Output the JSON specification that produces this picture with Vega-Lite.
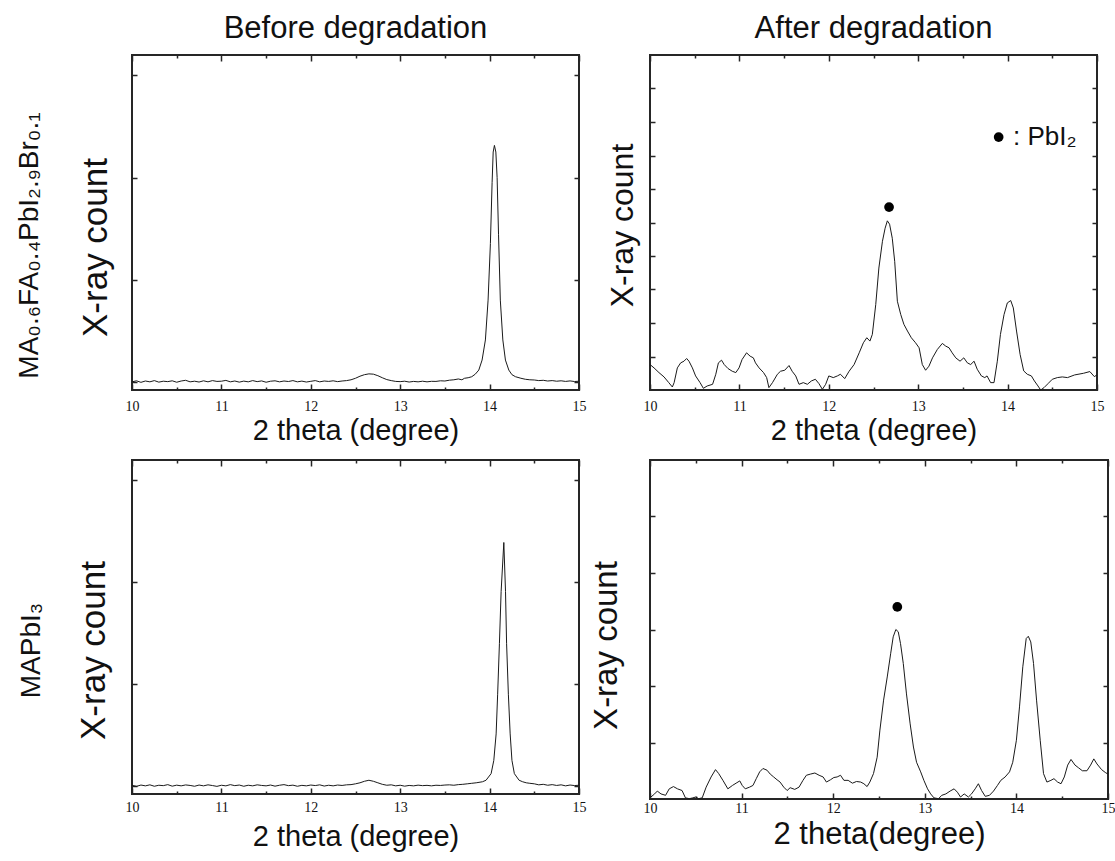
{
"$schema": "https://vega.github.io/schema/vega-lite/v6.json",
"background": "white",
"padding": {"left": 14, "top": 12, "right": 8, "bottom": 8},
"config": {
  "view": {"stroke": "#262626", "strokeWidth": 2},
  "axis": {"grid": false, "domain": false, "tickColor": "#262626", "tickWidth": 1.5, "tickSize": -6,
           "labelFont": "Liberation Serif", "labelFontSize": 14, "labelColor": "#111", "labelPadding": 15, "labelFlush": false,
           "titleFont": "Liberation Sans", "titleFontWeight": "normal", "titleColor": "#111"},
  "axisX": {"titleBaseline": "alphabetic", "titleFontSize": 29},
  "axisY": {"tickSize": -5},
  "title": {"font": "Liberation Sans", "fontSize": 31, "fontWeight": "normal", "color": "#111", "offset": 9, "anchor": "middle"}
},
"datasets": {
  "p1": [
{"x":10.00,"y":0.0},{"x":10.05,"y":0.01},{"x":10.10,"y":-0.005},{"x":10.15,"y":0.008},{"x":10.20,"y":0.0},{"x":10.25,"y":0.012},{"x":10.30,"y":-0.003},{"x":10.35,"y":0.006},{"x":10.40,"y":0.002},{"x":10.45,"y":0.01},{"x":10.50,"y":-0.004},{"x":10.55,"y":0.008},{"x":10.60,"y":0.015},{"x":10.65,"y":0.0},{"x":10.70,"y":0.006},{"x":10.75,"y":-0.002},{"x":10.80,"y":0.01},{"x":10.85,"y":0.0},{"x":10.90,"y":0.012},{"x":10.95,"y":0.004},{"x":11.00,"y":0.006},{"x":11.05,"y":0.014},{"x":11.10,"y":0.0},{"x":11.15,"y":0.008},{"x":11.20,"y":-0.003},{"x":11.25,"y":0.007},{"x":11.30,"y":0.0},{"x":11.35,"y":0.012},{"x":11.40,"y":0.002},{"x":11.45,"y":0.009},{"x":11.50,"y":-0.004},{"x":11.55,"y":0.006},{"x":11.60,"y":0.01},{"x":11.65,"y":0.0},{"x":11.70,"y":0.008},{"x":11.75,"y":0.003},{"x":11.80,"y":0.012},{"x":11.85,"y":0.0},{"x":11.90,"y":0.007},{"x":11.95,"y":-0.002},{"x":12.00,"y":0.005},{"x":12.05,"y":0.012},{"x":12.10,"y":0.0},{"x":12.15,"y":0.008},{"x":12.20,"y":0.004},{"x":12.25,"y":0.01},{"x":12.30,"y":0.002},{"x":12.35,"y":0.008},{"x":12.40,"y":0.012},{"x":12.45,"y":0.02},{"x":12.50,"y":0.035},{"x":12.55,"y":0.055},{"x":12.60,"y":0.07},{"x":12.65,"y":0.078},{"x":12.70,"y":0.075},{"x":12.75,"y":0.06},{"x":12.80,"y":0.04},{"x":12.85,"y":0.022},{"x":12.90,"y":0.012},{"x":12.95,"y":0.004},{"x":13.00,"y":0.002},{"x":13.05,"y":0.006},{"x":13.10,"y":-0.002},{"x":13.15,"y":0.004},{"x":13.20,"y":0.0},{"x":13.25,"y":0.006},{"x":13.30,"y":0.0},{"x":13.35,"y":0.005},{"x":13.40,"y":0.004},{"x":13.45,"y":0.01},{"x":13.50,"y":0.008},{"x":13.55,"y":0.016},{"x":13.60,"y":0.02},{"x":13.65,"y":0.028},{"x":13.69,"y":0.02},{"x":13.72,"y":0.035},{"x":13.76,"y":0.04},{"x":13.80,"y":0.05},{"x":13.84,"y":0.075},{"x":13.879,"y":0.115},{"x":13.916,"y":0.213},{"x":13.953,"y":0.41},{"x":13.983,"y":0.80},{"x":14.009,"y":1.355},{"x":14.028,"y":1.95},{"x":14.04,"y":2.25},{"x":14.054,"y":2.315},{"x":14.07,"y":2.25},{"x":14.084,"y":2.0},{"x":14.10,"y":1.44},{"x":14.12,"y":0.80},{"x":14.148,"y":0.41},{"x":14.177,"y":0.213},{"x":14.215,"y":0.115},{"x":14.25,"y":0.07},{"x":14.29,"y":0.05},{"x":14.35,"y":0.035},{"x":14.40,"y":0.025},{"x":14.45,"y":0.02},{"x":14.50,"y":0.018},{"x":14.55,"y":0.012},{"x":14.60,"y":0.015},{"x":14.65,"y":0.008},{"x":14.70,"y":0.012},{"x":14.75,"y":0.006},{"x":14.80,"y":0.01},{"x":14.85,"y":0.004},{"x":14.90,"y":0.009},{"x":14.95,"y":0.003},{"x":15.00,"y":0.006}
  ],
  "p2": [
{"x":10.0,"y":0.76},{"x":10.045,"y":0.66},{"x":10.10,"y":0.52},{"x":10.157,"y":0.39},{"x":10.21,"y":0.22},{"x":10.25,"y":0.09},{"x":10.27,"y":0.22},{"x":10.306,"y":0.66},{"x":10.343,"y":0.81},{"x":10.38,"y":0.86},{"x":10.41,"y":0.94},{"x":10.436,"y":0.86},{"x":10.474,"y":0.66},{"x":10.51,"y":0.42},{"x":10.56,"y":0.22},{"x":10.597,"y":0.05},{"x":10.64,"y":0.12},{"x":10.70,"y":0.17},{"x":10.736,"y":0.47},{"x":10.765,"y":0.81},{"x":10.80,"y":0.89},{"x":10.83,"y":0.76},{"x":10.873,"y":0.64},{"x":10.92,"y":0.56},{"x":10.96,"y":0.52},{"x":10.996,"y":0.66},{"x":11.03,"y":0.91},{"x":11.08,"y":1.11},{"x":11.12,"y":1.01},{"x":11.156,"y":0.96},{"x":11.18,"y":0.81},{"x":11.22,"y":0.66},{"x":11.27,"y":0.52},{"x":11.305,"y":0.37},{"x":11.33,"y":0.07},{"x":11.37,"y":0.22},{"x":11.425,"y":0.47},{"x":11.46,"y":0.56},{"x":11.507,"y":0.59},{"x":11.555,"y":0.73},{"x":11.59,"y":0.56},{"x":11.63,"y":0.42},{"x":11.667,"y":0.17},{"x":11.715,"y":0.22},{"x":11.76,"y":0.17},{"x":11.805,"y":0.27},{"x":11.85,"y":0.32},{"x":11.89,"y":0.19},{"x":11.928,"y":0.02},{"x":11.965,"y":0.17},{"x":12.0,"y":0.42},{"x":12.05,"y":0.37},{"x":12.096,"y":0.42},{"x":12.13,"y":0.47},{"x":12.178,"y":0.34},{"x":12.227,"y":0.56},{"x":12.283,"y":0.76},{"x":12.34,"y":1.11},{"x":12.387,"y":1.41},{"x":12.425,"y":1.56},{"x":12.46,"y":1.46},{"x":12.487,"y":1.66},{"x":12.525,"y":2.55},{"x":12.56,"y":3.64},{"x":12.6,"y":4.44},{"x":12.63,"y":4.83},{"x":12.655,"y":5.05},{"x":12.68,"y":4.95},{"x":12.71,"y":4.53},{"x":12.737,"y":3.84},{"x":12.767,"y":2.65},{"x":12.805,"y":2.25},{"x":12.84,"y":1.96},{"x":12.88,"y":1.76},{"x":12.923,"y":1.56},{"x":12.97,"y":1.41},{"x":13.01,"y":1.26},{"x":13.046,"y":0.76},{"x":13.083,"y":0.59},{"x":13.12,"y":0.71},{"x":13.16,"y":0.96},{"x":13.214,"y":1.21},{"x":13.27,"y":1.39},{"x":13.308,"y":1.31},{"x":13.345,"y":1.26},{"x":13.38,"y":1.11},{"x":13.42,"y":0.96},{"x":13.468,"y":0.86},{"x":13.51,"y":0.96},{"x":13.55,"y":0.81},{"x":13.587,"y":0.76},{"x":13.625,"y":0.86},{"x":13.66,"y":0.62},{"x":13.707,"y":0.42},{"x":13.745,"y":0.37},{"x":13.77,"y":0.42},{"x":13.81,"y":0.22},{"x":13.848,"y":0.22},{"x":13.885,"y":0.86},{"x":13.92,"y":1.66},{"x":13.96,"y":2.25},{"x":13.997,"y":2.60},{"x":14.035,"y":2.67},{"x":14.064,"y":2.45},{"x":14.10,"y":1.76},{"x":14.14,"y":1.06},{"x":14.18,"y":0.57},{"x":14.22,"y":0.47},{"x":14.266,"y":0.42},{"x":14.30,"y":0.27},{"x":14.34,"y":0.12},{"x":14.37,"y":0.0},{"x":14.407,"y":0.07},{"x":14.452,"y":0.19},{"x":14.50,"y":0.32},{"x":14.556,"y":0.37},{"x":14.612,"y":0.39},{"x":14.67,"y":0.37},{"x":14.75,"y":0.45},{"x":14.85,"y":0.5},{"x":14.92,"y":0.55},{"x":14.97,"y":0.4},{"x":15.0,"y":0.45}
  ],
  "p3": [
{"x":10.00,"y":0.005},{"x":10.05,"y":-0.005},{"x":10.10,"y":0.008},{"x":10.15,"y":0.0},{"x":10.20,"y":0.01},{"x":10.25,"y":-0.004},{"x":10.30,"y":0.006},{"x":10.35,"y":0.002},{"x":10.40,"y":0.012},{"x":10.45,"y":-0.003},{"x":10.50,"y":0.007},{"x":10.55,"y":0.0},{"x":10.60,"y":0.009},{"x":10.65,"y":0.004},{"x":10.70,"y":-0.004},{"x":10.75,"y":0.008},{"x":10.80,"y":0.0},{"x":10.85,"y":0.01},{"x":10.90,"y":0.003},{"x":10.95,"y":-0.005},{"x":11.00,"y":0.006},{"x":11.05,"y":0.0},{"x":11.10,"y":0.012},{"x":11.15,"y":0.002},{"x":11.20,"y":0.008},{"x":11.25,"y":-0.004},{"x":11.30,"y":0.006},{"x":11.35,"y":0.0},{"x":11.40,"y":0.01},{"x":11.45,"y":0.004},{"x":11.50,"y":0.0},{"x":11.55,"y":0.008},{"x":11.60,"y":-0.003},{"x":11.65,"y":0.006},{"x":11.70,"y":0.012},{"x":11.75,"y":0.002},{"x":11.80,"y":0.007},{"x":11.85,"y":-0.004},{"x":11.90,"y":0.005},{"x":11.95,"y":0.0},{"x":12.00,"y":0.008},{"x":12.05,"y":0.003},{"x":12.10,"y":0.01},{"x":12.15,"y":-0.002},{"x":12.20,"y":0.006},{"x":12.25,"y":0.0},{"x":12.30,"y":0.008},{"x":12.35,"y":0.004},{"x":12.40,"y":0.01},{"x":12.45,"y":0.012},{"x":12.50,"y":0.02},{"x":12.55,"y":0.03},{"x":12.60,"y":0.045},{"x":12.65,"y":0.055},{"x":12.70,"y":0.045},{"x":12.75,"y":0.03},{"x":12.80,"y":0.015},{"x":12.85,"y":0.006},{"x":12.90,"y":0.01},{"x":12.95,"y":0.0},{"x":13.00,"y":0.006},{"x":13.05,"y":-0.003},{"x":13.10,"y":0.004},{"x":13.15,"y":0.0},{"x":13.20,"y":0.007},{"x":13.25,"y":0.002},{"x":13.30,"y":0.005},{"x":13.35,"y":0.0},{"x":13.40,"y":0.006},{"x":13.45,"y":0.004},{"x":13.50,"y":0.008},{"x":13.55,"y":0.01},{"x":13.60,"y":0.006},{"x":13.65,"y":0.012},{"x":13.70,"y":0.015},{"x":13.75,"y":0.02},{"x":13.80,"y":0.025},{"x":13.85,"y":0.03},{"x":13.92,"y":0.04},{"x":13.96,"y":0.055},{"x":14.017,"y":0.12},{"x":14.047,"y":0.25},{"x":14.073,"y":0.51},{"x":14.09,"y":0.90},{"x":14.11,"y":1.40},{"x":14.129,"y":1.91},{"x":14.159,"y":2.39},{"x":14.178,"y":1.91},{"x":14.19,"y":1.40},{"x":14.21,"y":0.90},{"x":14.23,"y":0.51},{"x":14.25,"y":0.25},{"x":14.277,"y":0.12},{"x":14.33,"y":0.055},{"x":14.37,"y":0.04},{"x":14.41,"y":0.03},{"x":14.45,"y":0.025},{"x":14.50,"y":0.02},{"x":14.55,"y":0.01},{"x":14.60,"y":0.015},{"x":14.65,"y":0.006},{"x":14.70,"y":0.012},{"x":14.75,"y":0.004},{"x":14.80,"y":0.01},{"x":14.85,"y":0.0},{"x":14.90,"y":0.008},{"x":14.95,"y":0.003},{"x":15.00,"y":0.006}
  ],
  "p4": [
{"x":10.01,"y":0.035},{"x":10.05,"y":0.09},{"x":10.08,"y":0.14},{"x":10.12,"y":0.09},{"x":10.17,"y":0.065},{"x":10.21,"y":0.18},{"x":10.256,"y":0.22},{"x":10.30,"y":0.18},{"x":10.35,"y":0.15},{"x":10.387,"y":0.02},{"x":10.43,"y":0.006},{"x":10.467,"y":0.02},{"x":10.50,"y":0.035},{"x":10.53,"y":0.006},{"x":10.57,"y":0.02},{"x":10.613,"y":0.21},{"x":10.667,"y":0.39},{"x":10.715,"y":0.52},{"x":10.75,"y":0.45},{"x":10.796,"y":0.33},{"x":10.85,"y":0.18},{"x":10.90,"y":0.24},{"x":10.94,"y":0.28},{"x":10.98,"y":0.32},{"x":11.007,"y":0.24},{"x":11.04,"y":0.18},{"x":11.087,"y":0.21},{"x":11.124,"y":0.24},{"x":11.16,"y":0.36},{"x":11.197,"y":0.48},{"x":11.233,"y":0.54},{"x":11.277,"y":0.51},{"x":11.313,"y":0.44},{"x":11.35,"y":0.39},{"x":11.387,"y":0.34},{"x":11.42,"y":0.30},{"x":11.46,"y":0.21},{"x":11.497,"y":0.15},{"x":11.53,"y":0.20},{"x":11.58,"y":0.17},{"x":11.627,"y":0.21},{"x":11.67,"y":0.33},{"x":11.707,"y":0.42},{"x":11.75,"y":0.44},{"x":11.80,"y":0.46},{"x":11.846,"y":0.42},{"x":11.89,"y":0.39},{"x":11.926,"y":0.30},{"x":11.97,"y":0.34},{"x":12.007,"y":0.38},{"x":12.043,"y":0.39},{"x":12.08,"y":0.42},{"x":12.117,"y":0.33},{"x":12.163,"y":0.33},{"x":12.21,"y":0.28},{"x":12.254,"y":0.31},{"x":12.30,"y":0.30},{"x":12.335,"y":0.27},{"x":12.37,"y":0.22},{"x":12.40,"y":0.30},{"x":12.44,"y":0.45},{"x":12.48,"y":0.74},{"x":12.51,"y":1.22},{"x":12.55,"y":1.75},{"x":12.59,"y":2.16},{"x":12.627,"y":2.57},{"x":12.655,"y":2.87},{"x":12.684,"y":3.00},{"x":12.71,"y":2.96},{"x":12.735,"y":2.75},{"x":12.765,"y":2.40},{"x":12.80,"y":1.86},{"x":12.84,"y":1.33},{"x":12.876,"y":0.92},{"x":12.91,"y":0.65},{"x":12.955,"y":0.48},{"x":12.99,"y":0.33},{"x":13.03,"y":0.18},{"x":13.064,"y":0.09},{"x":13.10,"y":0.02},{"x":13.15,"y":0.006},{"x":13.185,"y":0.065},{"x":13.23,"y":0.09},{"x":13.276,"y":0.14},{"x":13.32,"y":0.18},{"x":13.356,"y":0.12},{"x":13.39,"y":0.035},{"x":13.43,"y":0.09},{"x":13.476,"y":0.035},{"x":13.51,"y":0.09},{"x":13.55,"y":0.18},{"x":13.585,"y":0.27},{"x":13.62,"y":0.15},{"x":13.66,"y":0.047},{"x":13.706,"y":0.065},{"x":13.75,"y":0.14},{"x":13.793,"y":0.24},{"x":13.83,"y":0.33},{"x":13.877,"y":0.39},{"x":13.925,"y":0.48},{"x":13.96,"y":0.65},{"x":14.0,"y":1.04},{"x":14.034,"y":1.63},{"x":14.07,"y":2.34},{"x":14.107,"y":2.84},{"x":14.13,"y":2.88},{"x":14.157,"y":2.78},{"x":14.187,"y":2.40},{"x":14.22,"y":1.75},{"x":14.26,"y":1.04},{"x":14.296,"y":0.45},{"x":14.333,"y":0.30},{"x":14.377,"y":0.33},{"x":14.41,"y":0.36},{"x":14.45,"y":0.30},{"x":14.487,"y":0.27},{"x":14.523,"y":0.39},{"x":14.56,"y":0.60},{"x":14.596,"y":0.70},{"x":14.64,"y":0.6},{"x":14.68,"y":0.55},{"x":14.72,"y":0.5},{"x":14.77,"y":0.5},{"x":14.81,"y":0.6},{"x":14.845,"y":0.71},{"x":14.88,"y":0.62},{"x":14.93,"y":0.52},{"x":14.97,"y":0.47},{"x":15.0,"y":0.44}
  ]
},
"columns": 2,
"align": "each",
"bounds": "flush",
"spacing": {"row": 70, "column": 71},
"concat": [
 {
  "width": 447, "height": 335,
  "title": {"text": "Before degradation"},
  "layer": [
   {"data": {"name": "p1"}, "mark": {"type": "line", "color": "#1a1a1a", "strokeWidth": 1},
    "encoding": {
     "x": {"field": "x", "type": "quantitative", "scale": {"domain": [10, 15], "nice": false, "zero": false},
           "axis": {"orient": "bottom", "values": [10, 11, 12, 13, 14, 15], "title": "2 theta (degree)", "titleY": 49}},
     "y": {"field": "y", "type": "quantitative", "scale": {"domain": [-0.08, 3.2], "nice": false, "zero": false},
           "axis": {"orient": "left", "values": [0, 1, 2, 3], "labels": false, "title": "X-ray count", "titleFontSize": 35, "titleX": -19, "titleY": 192}}}},
   {"data": {"name": "p1"}, "mark": {"type": "line", "opacity": 0},
    "encoding": {
     "x": {"field": "x", "type": "quantitative", "scale": {"domain": [10, 15], "nice": false, "zero": false},
           "axis": {"orient": "top", "values": [10, 11, 12, 13, 14, 15], "labels": false, "title": null}},
     "y": {"field": "y", "type": "quantitative", "scale": {"domain": [-0.08, 3.2], "nice": false, "zero": false},
           "axis": {"orient": "right", "values": [0, 1, 2, 3], "labels": false, "title": null}}}},
   {"data": {"name": "p1"}, "mark": {"type": "line", "opacity": 0},
    "encoding": {
     "x": {"field": "x", "type": "quantitative", "scale": {"domain": [10, 15], "nice": false, "zero": false},
           "axis": {"orient": "bottom", "values": [10.5, 11.5, 12.5, 13.5, 14.5], "labels": false, "title": null, "tickSize": -3}},
     "y": {"field": "y", "type": "quantitative", "scale": {"domain": [-0.08, 3.2], "nice": false, "zero": false},
           "axis": {"orient": "left", "ticks": false, "labels": false, "title": "MA₀.₆FA₀.₄PbI₂.₉Br₀.₁", "titleFontSize": 28, "titleBaseline": "alphabetic", "titleX": -95, "titleY": 190}}}},
   {"data": {"name": "p1"}, "mark": {"type": "line", "opacity": 0},
    "encoding": {
     "x": {"field": "x", "type": "quantitative", "scale": {"domain": [10, 15], "nice": false, "zero": false},
           "axis": {"orient": "top", "values": [10.5, 11.5, 12.5, 13.5, 14.5], "labels": false, "title": null, "tickSize": -3}},
     "y": {"field": "y", "type": "quantitative", "scale": {"domain": [-0.08, 3.2], "nice": false, "zero": false}, "axis": null}}}
  ],
  "resolve": {"axis": {"x": "independent", "y": "independent"}}
 },
 {
  "width": 447, "height": 335,
  "title": {"text": "After degradation"},
  "layer": [
   {"data": {"name": "p2"}, "mark": {"type": "line", "color": "#1a1a1a", "strokeWidth": 1},
    "encoding": {
     "x": {"field": "x", "type": "quantitative", "scale": {"domain": [10, 15], "nice": false, "zero": false},
           "axis": {"orient": "bottom", "values": [10, 11, 12, 13, 14, 15], "title": "2 theta (degree)", "titleY": 49}},
     "y": {"field": "y", "type": "quantitative", "scale": {"domain": [0, 10], "nice": false, "zero": false},
           "axis": {"orient": "left", "values": [1, 2, 3, 4, 5, 6, 7, 8, 9], "labels": false, "title": "X-ray count", "titleFontSize": 32, "titleX": -11, "titleY": 170}}}},
   {"data": {"name": "p2"}, "mark": {"type": "line", "opacity": 0},
    "encoding": {
     "x": {"field": "x", "type": "quantitative", "scale": {"domain": [10, 15], "nice": false, "zero": false},
           "axis": {"orient": "top", "values": [10, 11, 12, 13, 14, 15], "labels": false, "title": null}},
     "y": {"field": "y", "type": "quantitative", "scale": {"domain": [0, 10], "nice": false, "zero": false},
           "axis": {"orient": "right", "values": [1, 2, 3, 4, 5, 6, 7, 8, 9], "labels": false, "title": null}}}},
   {"data": {"name": "p2"}, "mark": {"type": "line", "opacity": 0},
    "encoding": {
     "x": {"field": "x", "type": "quantitative", "scale": {"domain": [10, 15], "nice": false, "zero": false},
           "axis": {"orient": "bottom", "values": [10.5, 11.5, 12.5, 13.5, 14.5], "labels": false, "title": null, "tickSize": -3}},
     "y": {"field": "y", "type": "quantitative", "scale": {"domain": [0, 10], "nice": false, "zero": false}, "axis": null}}},
   {"data": {"name": "p2"}, "mark": {"type": "line", "opacity": 0},
    "encoding": {
     "x": {"field": "x", "type": "quantitative", "scale": {"domain": [10, 15], "nice": false, "zero": false},
           "axis": {"orient": "top", "values": [10.5, 11.5, 12.5, 13.5, 14.5], "labels": false, "title": null, "tickSize": -3}},
     "y": {"field": "y", "type": "quantitative", "scale": {"domain": [0, 10], "nice": false, "zero": false}, "axis": null}}},
   {"data": {"values": [{"x": 12.674, "y": 5.46}, {"x": 13.9, "y": 7.55}]},
    "mark": {"type": "point", "filled": true, "shape": "circle", "color": "#000", "opacity": 1, "size": 95},
    "encoding": {
     "x": {"field": "x", "type": "quantitative", "scale": {"domain": [10, 15], "nice": false, "zero": false}, "axis": null},
     "y": {"field": "y", "type": "quantitative", "scale": {"domain": [0, 10], "nice": false, "zero": false}, "axis": null}}},
   {"data": {"values": [{"x": 14.06, "y": 7.55, "label": ": PbI₂"}]},
    "mark": {"type": "text", "align": "left", "baseline": "middle", "font": "Liberation Sans", "fontSize": 26, "color": "#111"},
    "encoding": {
     "x": {"field": "x", "type": "quantitative", "scale": {"domain": [10, 15], "nice": false, "zero": false}, "axis": null},
     "y": {"field": "y", "type": "quantitative", "scale": {"domain": [0, 10], "nice": false, "zero": false}, "axis": null},
     "text": {"field": "label"}}}
  ],
  "resolve": {"axis": {"x": "independent", "y": "independent"}}
 },
 {
  "width": 447, "height": 334,
  "layer": [
   {"data": {"name": "p3"}, "mark": {"type": "line", "color": "#1a1a1a", "strokeWidth": 1},
    "encoding": {
     "x": {"field": "x", "type": "quantitative", "scale": {"domain": [10, 15], "nice": false, "zero": false},
           "axis": {"orient": "bottom", "values": [10, 11, 12, 13, 14, 15], "title": "2 theta (degree)", "titleY": 51, "labelPadding": 12}},
     "y": {"field": "y", "type": "quantitative", "scale": {"domain": [-0.08, 3.2], "nice": false, "zero": false},
           "axis": {"orient": "left", "values": [0, 1, 2, 3], "labels": false, "title": "X-ray count", "titleFontSize": 35, "titleX": -21, "titleY": 190}}}},
   {"data": {"name": "p3"}, "mark": {"type": "line", "opacity": 0},
    "encoding": {
     "x": {"field": "x", "type": "quantitative", "scale": {"domain": [10, 15], "nice": false, "zero": false},
           "axis": {"orient": "top", "values": [10, 11, 12, 13, 14, 15], "labels": false, "title": null}},
     "y": {"field": "y", "type": "quantitative", "scale": {"domain": [-0.08, 3.2], "nice": false, "zero": false},
           "axis": {"orient": "right", "values": [0, 1, 2, 3], "labels": false, "title": null}}}},
   {"data": {"name": "p3"}, "mark": {"type": "line", "opacity": 0},
    "encoding": {
     "x": {"field": "x", "type": "quantitative", "scale": {"domain": [10, 15], "nice": false, "zero": false},
           "axis": {"orient": "bottom", "values": [10.5, 11.5, 12.5, 13.5, 14.5], "labels": false, "title": null, "tickSize": -3}},
     "y": {"field": "y", "type": "quantitative", "scale": {"domain": [-0.08, 3.2], "nice": false, "zero": false},
           "axis": {"orient": "left", "ticks": false, "labels": false, "title": "MAPbI₃", "titleFontSize": 28, "titleBaseline": "alphabetic", "titleX": -93, "titleY": 190}}}},
   {"data": {"name": "p3"}, "mark": {"type": "line", "opacity": 0},
    "encoding": {
     "x": {"field": "x", "type": "quantitative", "scale": {"domain": [10, 15], "nice": false, "zero": false},
           "axis": {"orient": "top", "values": [10.5, 11.5, 12.5, 13.5, 14.5], "labels": false, "title": null, "tickSize": -3}},
     "y": {"field": "y", "type": "quantitative", "scale": {"domain": [-0.08, 3.2], "nice": false, "zero": false}, "axis": null}}}
  ],
  "resolve": {"axis": {"x": "independent", "y": "independent"}}
 },
 {
  "width": 458, "height": 339,
  "layer": [
   {"data": {"name": "p4"}, "mark": {"type": "line", "color": "#1a1a1a", "strokeWidth": 1},
    "encoding": {
     "x": {"field": "x", "type": "quantitative", "scale": {"domain": [10, 15], "nice": false, "zero": false},
           "axis": {"orient": "bottom", "values": [10, 11, 12, 13, 14, 15], "title": "2 theta(degree)", "titleY": 44, "titleFontSize": 31, "labelPadding": 8}},
     "y": {"field": "y", "type": "quantitative", "scale": {"domain": [0, 6], "nice": false, "zero": false},
           "axis": {"orient": "left", "values": [1, 2, 3, 4, 5], "labels": false, "title": "X-ray count", "titleFontSize": 33, "titleX": -27, "titleY": 185}}}},
   {"data": {"name": "p4"}, "mark": {"type": "line", "opacity": 0},
    "encoding": {
     "x": {"field": "x", "type": "quantitative", "scale": {"domain": [10, 15], "nice": false, "zero": false},
           "axis": {"orient": "top", "values": [10, 11, 12, 13, 14, 15], "labels": false, "title": null}},
     "y": {"field": "y", "type": "quantitative", "scale": {"domain": [0, 6], "nice": false, "zero": false},
           "axis": {"orient": "right", "values": [1, 2, 3, 4, 5], "labels": false, "title": null}}}},
   {"data": {"name": "p4"}, "mark": {"type": "line", "opacity": 0},
    "encoding": {
     "x": {"field": "x", "type": "quantitative", "scale": {"domain": [10, 15], "nice": false, "zero": false},
           "axis": {"orient": "bottom", "values": [10.5, 11.5, 12.5, 13.5, 14.5], "labels": false, "title": null, "tickSize": -3}},
     "y": {"field": "y", "type": "quantitative", "scale": {"domain": [0, 6], "nice": false, "zero": false}, "axis": null}}},
   {"data": {"name": "p4"}, "mark": {"type": "line", "opacity": 0},
    "encoding": {
     "x": {"field": "x", "type": "quantitative", "scale": {"domain": [10, 15], "nice": false, "zero": false},
           "axis": {"orient": "top", "values": [10.5, 11.5, 12.5, 13.5, 14.5], "labels": false, "title": null, "tickSize": -3}},
     "y": {"field": "y", "type": "quantitative", "scale": {"domain": [0, 6], "nice": false, "zero": false}, "axis": null}}},
   {"data": {"values": [{"x": 12.70, "y": 3.40}]},
    "mark": {"type": "point", "filled": true, "shape": "circle", "color": "#000", "opacity": 1, "size": 95},
    "encoding": {
     "x": {"field": "x", "type": "quantitative", "scale": {"domain": [10, 15], "nice": false, "zero": false}, "axis": null},
     "y": {"field": "y", "type": "quantitative", "scale": {"domain": [0, 6], "nice": false, "zero": false}, "axis": null}}}
  ],
  "resolve": {"axis": {"x": "independent", "y": "independent"}}
 }
]
}
